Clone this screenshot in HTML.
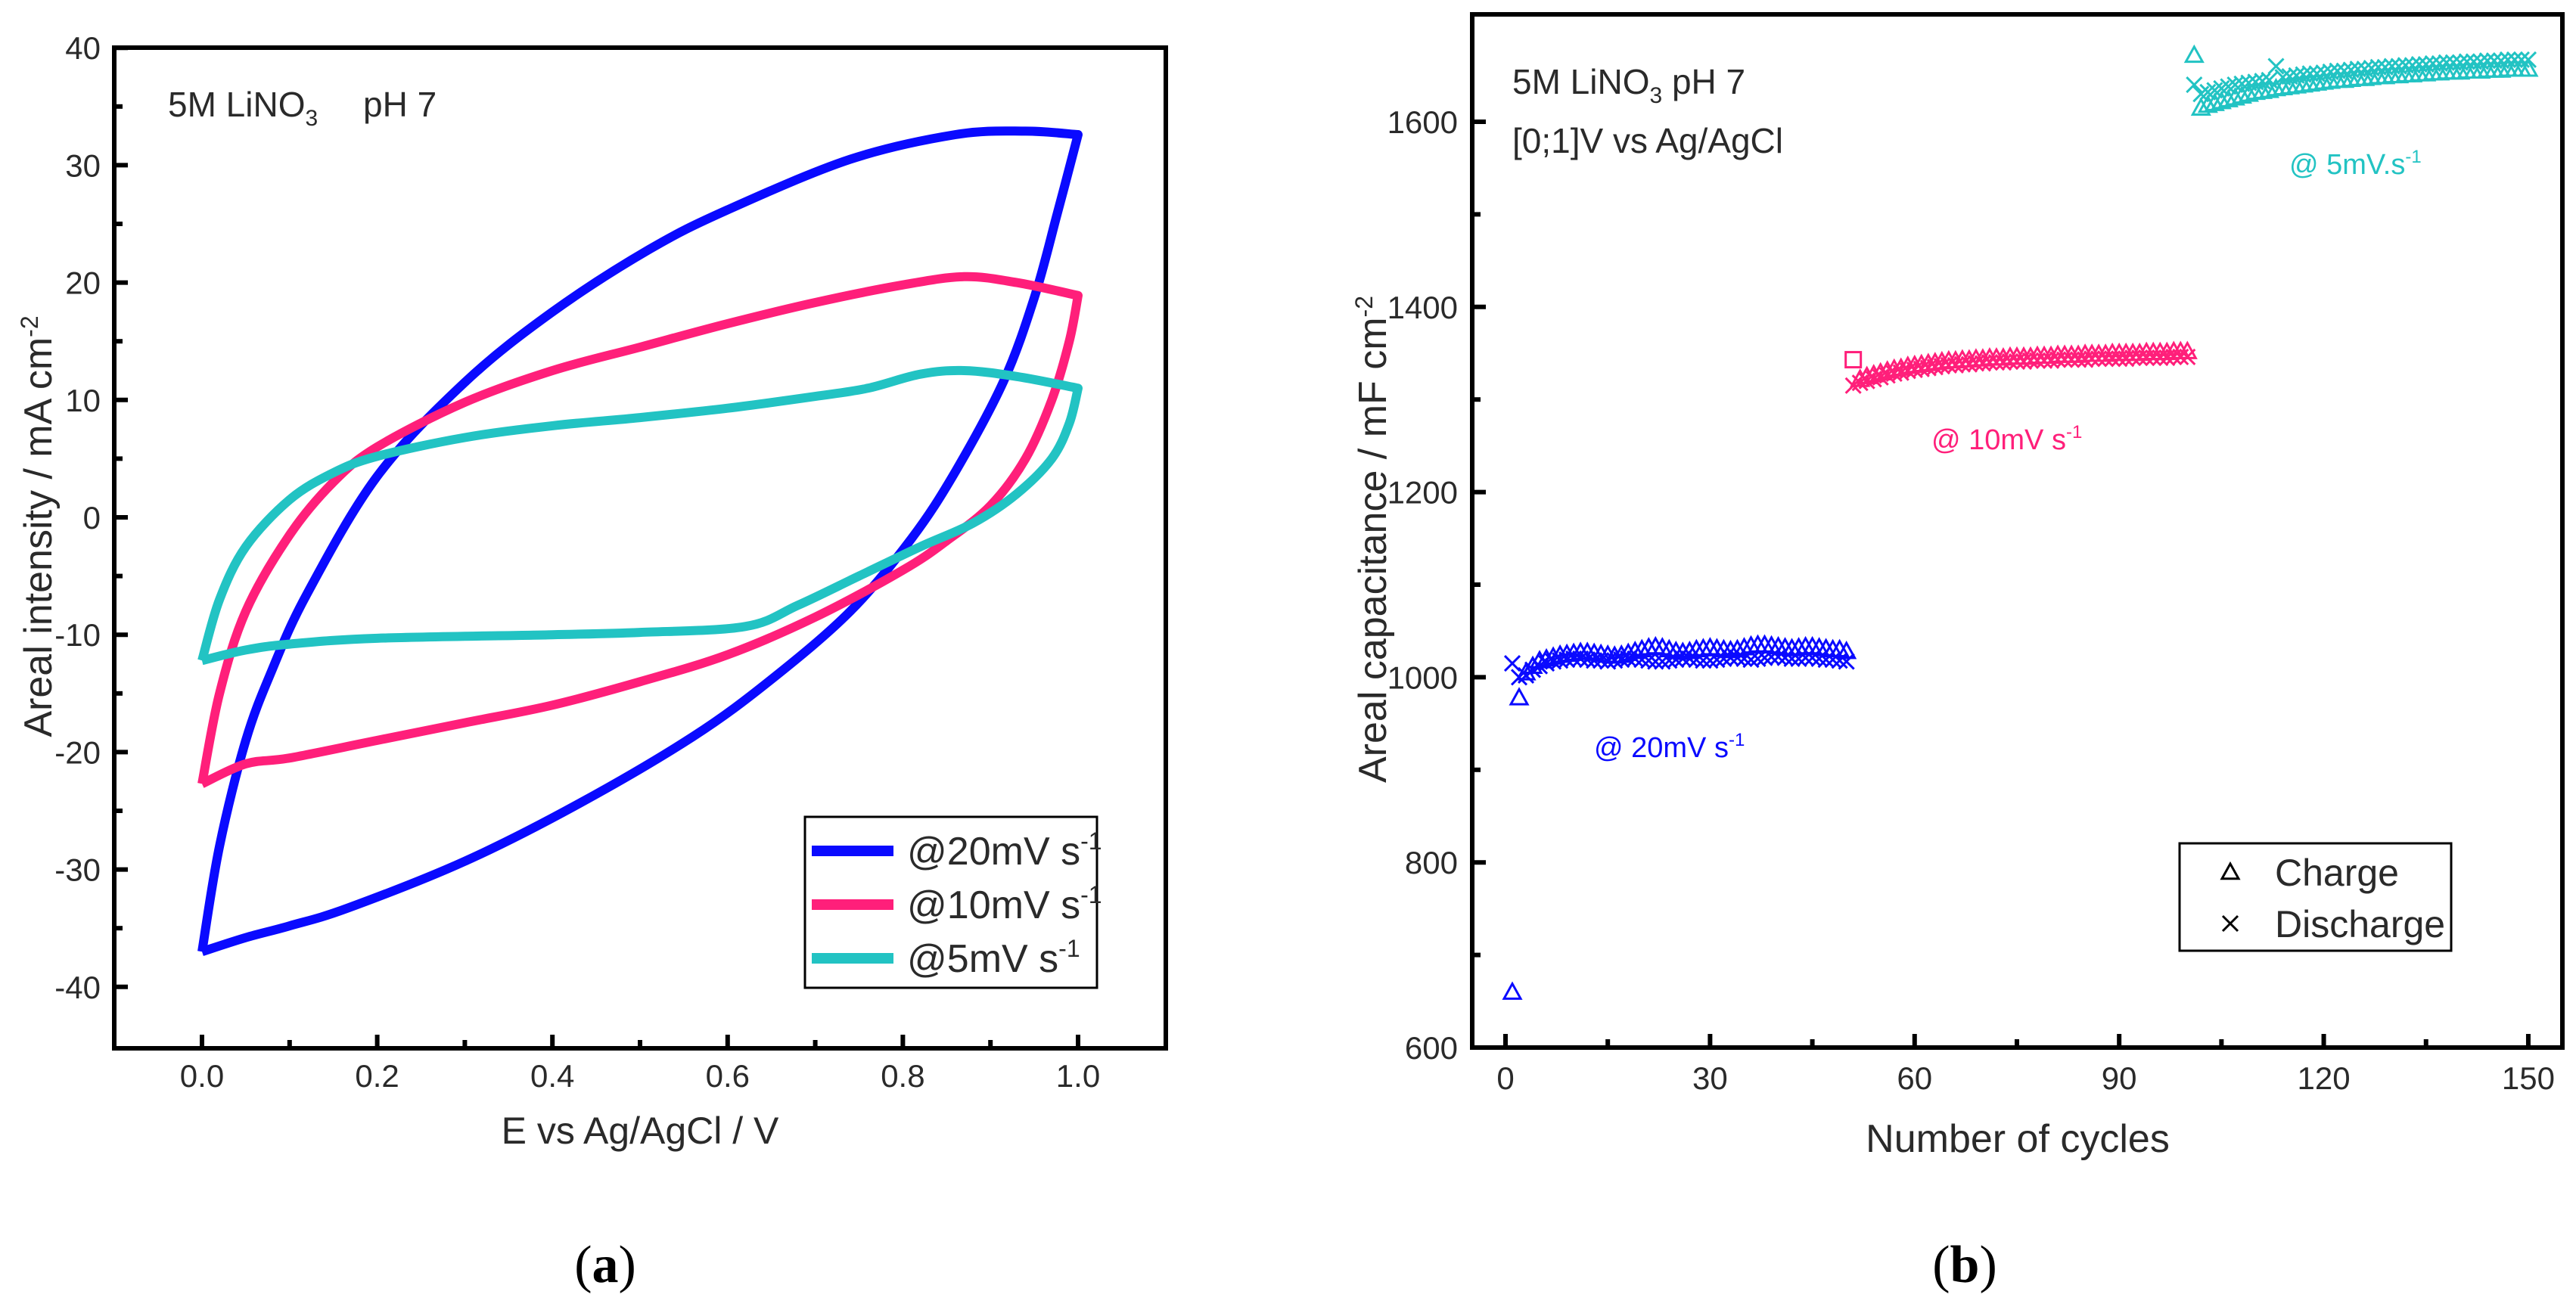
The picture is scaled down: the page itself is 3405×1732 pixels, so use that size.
<!DOCTYPE html>
<html><head><meta charset="utf-8"><style>
html,body{margin:0;padding:0;background:#fff;}
svg{display:block;font-family:"Liberation Sans",sans-serif;}
</style></head><body>
<svg id="fig" width="3405" height="1732" viewBox="0 0 3405 1732" xmlns="http://www.w3.org/2000/svg">
<g id="pa"></g>
<g id="pb"></g>
</svg>
<script>
// ---- Panel (a) data ----
const cvXTicks=[0.0,0.2,0.4,0.6,0.8,1.0];
const cvYTicks=[-40,-30,-20,-10,0,10,20,30,40];
const blueE=[0,0.02,0.05,0.08,0.12,0.2,0.3,0.4,0.51,0.6,0.74,0.86,0.94,1.0,0.976,0.95,0.915,0.86,0.81,0.74,0.65,0.56,0.43,0.3,0.166,0.1,0.05,0];
const blueI=[-37,-28,-19,-13,-6.5,3.5,11.5,17.5,22.8,26.2,30.5,32.6,32.9,32.6,25.8,18.7,11.6,3.9,-1.8,-8,-13.8,-18.7,-24.4,-29.3,-33.3,-34.8,-35.8,-37];
const pinkE=[0,0.02,0.05,0.1,0.15,0.2,0.3,0.4,0.5,0.6,0.7,0.8,0.87,0.93,1.0,0.99,0.97,0.94,0.9,0.85,0.8,0.7,0.6,0.5,0.4,0.3,0.2,0.1,0.05,0];
const pinkI=[-22.7,-15,-8,-1.5,3,6,9.8,12.5,14.5,16.5,18.3,19.8,20.5,20,18.9,15,10,5,1,-2,-4.5,-8.5,-11.7,-14,-16,-17.5,-19,-20.5,-21,-22.7];
const cyanE=[0,0.02,0.05,0.1,0.15,0.2,0.3,0.4,0.5,0.6,0.7,0.76,0.82,0.87,0.93,1.0,0.99,0.97,0.93,0.88,0.82,0.75,0.68,0.62,0.5,0.4,0.2,0.1,0.05,0];
const cyanI=[-12.2,-7,-2.5,1.5,3.8,5.2,6.8,7.8,8.5,9.3,10.3,11,12.2,12.5,12,11,8,5,2,-0.5,-2.5,-5,-7.5,-9.3,-9.8,-10,-10.3,-10.8,-11.3,-12.2];
// ---- Panel (b) data ----
const cycXTicks=[0,30,60,90,120,150];
const cycYTicks=[600,800,1000,1200,1400,1600];
const blueCharge=[660,978,1005,1012,1018,1020,1022,1024,1025,1026,1027,1027,1026,1025,1024,1023,1024,1026,1028,1030,1032,1033,1032,1030,1028,1027,1028,1030,1031,1032,1031,1030,1029,1030,1032,1034,1035,1035,1034,1033,1032,1031,1032,1033,1033,1032,1031,1030,1030,1028];
const blueDischarge=[1015,1000,1002,1008,1012,1015,1017,1018,1019,1020,1020,1019,1018,1018,1017,1018,1019,1020,1020,1019,1018,1017,1017,1018,1019,1020,1020,1019,1018,1018,1019,1020,1021,1021,1020,1019,1020,1021,1022,1022,1021,1020,1020,1021,1021,1020,1019,1019,1018,1017];
const pinkFirstCharge=[1343];
const pinkCharge=[1322,1325,1327,1329,1331,1333,1334,1336,1337,1338,1339,1340,1341,1342,1342,1343,1343,1344,1344,1345,1345,1345,1346,1346,1346,1346,1347,1347,1347,1348,1348,1348,1348,1349,1349,1349,1349,1350,1350,1350,1350,1350,1351,1351,1351,1351,1352,1352,1352];
const pinkDischarge=[1315,1318,1320,1322,1324,1326,1328,1329,1331,1332,1333,1334,1335,1336,1337,1337,1338,1338,1339,1339,1340,1340,1340,1341,1341,1341,1342,1342,1342,1342,1343,1343,1343,1343,1343,1344,1344,1344,1344,1344,1344,1345,1345,1345,1345,1345,1345,1346,1346,1346];
const cyanCharge=[1672,1615,1618,1620,1622,1624,1626,1628,1630,1632,1633,1634,1636,1637,1638,1639,1640,1641,1642,1643,1644,1645,1645,1646,1647,1647,1648,1649,1649,1650,1650,1651,1651,1652,1652,1653,1653,1654,1654,1654,1655,1655,1655,1656,1656,1656,1657,1657,1657,1657];
const cyanDischarge=[1640,1630,1632,1634,1636,1638,1640,1641,1642,1643,1644,1645,1660,1648,1649,1650,1651,1652,1652,1653,1654,1655,1655,1656,1657,1657,1658,1659,1659,1660,1660,1661,1661,1662,1662,1663,1663,1664,1664,1664,1665,1665,1665,1666,1666,1666,1667,1667,1667,1667];

const NS="http://www.w3.org/2000/svg";
function mk(parent,tag,attrs,text){const e=document.createElementNS(NS,tag);for(const k in attrs)e.setAttribute(k,attrs[k]);if(text!==undefined)e.textContent=text;parent.appendChild(e);return e;}
const BLUE="#0a0aff",PINK="#ff1f7a",CYAN="#22c3c3",TXT="#2a2a2a";

function smooth(P){
  let d='M'+P[0][0].toFixed(1)+','+P[0][1].toFixed(1);
  for(let i=0;i<P.length-1;i++){
    const p0=P[i-1]||P[i],p1=P[i],p2=P[i+1],p3=P[i+2]||P[i+1];
    const c1=[p1[0]+(p2[0]-p0[0])/6,p1[1]+(p2[1]-p0[1])/6];
    const c2=[p2[0]-(p3[0]-p1[0])/6,p2[1]-(p3[1]-p1[1])/6];
    d+=` C${c1[0].toFixed(1)},${c1[1].toFixed(1)} ${c2[0].toFixed(1)},${c2[1].toFixed(1)} ${p2[0].toFixed(1)},${p2[1].toFixed(1)}`;
  }
  return d;
}

// ===== Panel A =====
const A=document.getElementById('pa');
const ax=v=>267+(v)*1158, ay=v=>684-(v)*15.52;
let t;
for(let i=0;i<3;i++){
  const E=[blueE,pinkE,cyanE][i],I=[blueI,pinkI,cyanI][i],c=[BLUE,PINK,CYAN][i];
  const pts=E.map((v,k)=>[ax(v),ay(I[k])]);
  let m=0;E.forEach((v,k)=>{if(v>E[m])m=k;});
  const d=smooth(pts.slice(0,m+1))+' '+smooth(pts.slice(m)).replace(/^M[^ ]+/,'');
  const p=mk(A,'path',{d:d,fill:'none',stroke:c,'stroke-width':12,'stroke-linejoin':'round'});
  
  
}
t=mk(A,'rect',{x:151,y:63,width:1390,height:1323,fill:'none',stroke:'#000','stroke-width':6});

cvXTicks.forEach(v=>{
  mk(A,'line',{x1:ax(v),x2:ax(v),y1:1386,y2:1368,stroke:'#000','stroke-width':6});
  const l=mk(A,'text',{x:ax(v),y:1437,'font-size':42,fill:TXT,'text-anchor':'middle'},v.toFixed(1));
  
});
[0.1,0.3,0.5,0.7,0.9].forEach(v=>mk(A,'line',{x1:ax(v),x2:ax(v),y1:1386,y2:1375,stroke:'#000','stroke-width':6}));
cvYTicks.forEach(v=>{
  mk(A,'line',{x1:151,x2:169,y1:ay(v),y2:ay(v),stroke:'#000','stroke-width':6});
  const l=mk(A,'text',{x:133,y:ay(v)+15,'font-size':42,fill:TXT,'text-anchor':'end'},String(v));
  
});
[-35,-25,-15,-5,5,15,25,35].forEach(v=>mk(A,'line',{x1:151,x2:162,y1:ay(v),y2:ay(v),stroke:'#000','stroke-width':6}));
t=mk(A,'text',{x:846,y:1512,'font-size':50,fill:TXT,'text-anchor':'middle'},'E vs Ag/AgCl / V');

t=mk(A,'text',{x:0,y:0,'font-size':52,fill:TXT,'text-anchor':'middle',transform:'translate(68,696) rotate(-90)'});
t.innerHTML='Areal intensity / mA cm<tspan dy="-18" font-size="32">-2</tspan>';

t=mk(A,'text',{x:222,y:154,'font-size':46,fill:TXT});
t.innerHTML='5M LiNO<tspan dy="12" font-size="30">3</tspan><tspan dy="-12" x="480">pH 7</tspan>';

t=mk(A,'rect',{x:1064,y:1080,width:386,height:226,fill:'#fff',stroke:'#000','stroke-width':3});

['@20mV s','@10mV s','@5mV s'].forEach((s,i)=>{
  const y=[1125,1196,1267][i];
  const ln=mk(A,'line',{x1:1073,x2:1181,y1:y,y2:y,stroke:[BLUE,PINK,CYAN][i],'stroke-width':14});
  
  const tx=mk(A,'text',{x:1199,y:y+18,'font-size':52,fill:TXT});
  tx.innerHTML=s+'<tspan dy="-20" font-size="32">-1</tspan>';
  
});
t=mk(A,'text',{x:800,y:1695,'font-size':70,'font-family':'Liberation Serif,serif',fill:'#000','text-anchor':'middle'});
t.innerHTML='(<tspan font-weight="bold">a</tspan>)';


// ===== Panel B =====
const B=document.getElementById('pb');
const bx=v=>1990+v*9.013, by=v=>1385-(v-600)*1.224;
function tri(x,y,c){const s=11;const e=mk(B,'path',{d:`M${x},${y-s} L${x+s},${y+s*0.8} L${x-s},${y+s*0.8} Z`,fill:'none',stroke:c,'stroke-width':3});
  }
function cross(x,y,c){const s=10;const e=mk(B,'path',{d:`M${x-s},${y-s} L${x+s},${y+s} M${x-s},${y+s} L${x+s},${y-s}`,stroke:c,'stroke-width':3});
  }
blueCharge.forEach((v,i)=>tri(bx(1+i),by(v),BLUE));
blueDischarge.forEach((v,i)=>cross(bx(1+i),by(v),BLUE));
pinkFirstCharge.forEach((v,i)=>{const e=mk(B,'rect',{x:bx(51+i)-10,y:by(v)-10,width:20,height:20,fill:'none',stroke:PINK,'stroke-width':3});
  });
pinkCharge.forEach((v,i)=>tri(bx(52+i),by(v),PINK));
pinkDischarge.forEach((v,i)=>cross(bx(51+i),by(v),PINK));
cyanCharge.forEach((v,i)=>tri(bx(101+i),by(v),CYAN));
cyanDischarge.forEach((v,i)=>cross(bx(101+i),by(v),CYAN));
t=mk(B,'rect',{x:1946,y:19,width:1441,height:1366,fill:'none',stroke:'#000','stroke-width':6});

cycXTicks.forEach(v=>{
  mk(B,'line',{x1:bx(v),x2:bx(v),y1:1385,y2:1367,stroke:'#000','stroke-width':6});
  const l=mk(B,'text',{x:bx(v),y:1440,'font-size':42,fill:TXT,'text-anchor':'middle'},String(v));
  
});
[15,45,75,105,135].forEach(v=>mk(B,'line',{x1:bx(v),x2:bx(v),y1:1385,y2:1374,stroke:'#000','stroke-width':6}));
cycYTicks.forEach(v=>{
  mk(B,'line',{x1:1946,x2:1964,y1:by(v),y2:by(v),stroke:'#000','stroke-width':6});
  const l=mk(B,'text',{x:1927,y:by(v)+15,'font-size':42,fill:TXT,'text-anchor':'end'},String(v));
  
});
[700,900,1100,1300,1500].forEach(v=>mk(B,'line',{x1:1946,x2:1957,y1:by(v),y2:by(v),stroke:'#000','stroke-width':6}));
t=mk(B,'text',{x:2667,y:1523,'font-size':52,fill:TXT,'text-anchor':'middle'},'Number of cycles');

t=mk(B,'text',{x:0,y:0,'font-size':52,fill:TXT,'text-anchor':'middle',transform:'translate(1832,713) rotate(-90)'});
t.innerHTML='Areal capacitance / mF cm<tspan dy="-18" font-size="32">-2</tspan>';

t=mk(B,'text',{x:1999,y:124,'font-size':46,fill:TXT});
t.innerHTML='5M LiNO<tspan dy="12" font-size="30">3</tspan><tspan dy="-12"> pH 7</tspan>';

t=mk(B,'text',{x:1999,y:202,'font-size':46,fill:TXT},'[0;1]V vs Ag/AgCl');

[['@ 5mV.s',3026,230,CYAN,'label-5mv'],['@ 10mV s',2553,594,PINK,'label-10mv'],['@ 20mV s',2107,1001,BLUE,'label-20mv']].forEach(a=>{
  const e=mk(B,'text',{x:a[1],y:a[2],'font-size':38,fill:a[3]});
  e.innerHTML=a[0]+'<tspan dy="-15" font-size="24">-1</tspan>';
  
});
t=mk(B,'rect',{x:2881,y:1115,width:359,height:142,fill:'#fff',stroke:'#000','stroke-width':3});

tri(2948,1153,'#000');cross(2948,1221,'#000');
t=mk(B,'text',{x:3007,y:1171,'font-size':50,fill:TXT},'Charge');

t=mk(B,'text',{x:3007,y:1239,'font-size':50,fill:TXT},'Discharge');

t=mk(B,'text',{x:2597,y:1695,'font-size':70,'font-family':'Liberation Serif,serif',fill:'#000','text-anchor':'middle'});
t.innerHTML='(<tspan font-weight="bold">b</tspan>)';

</script>
</body></html>
